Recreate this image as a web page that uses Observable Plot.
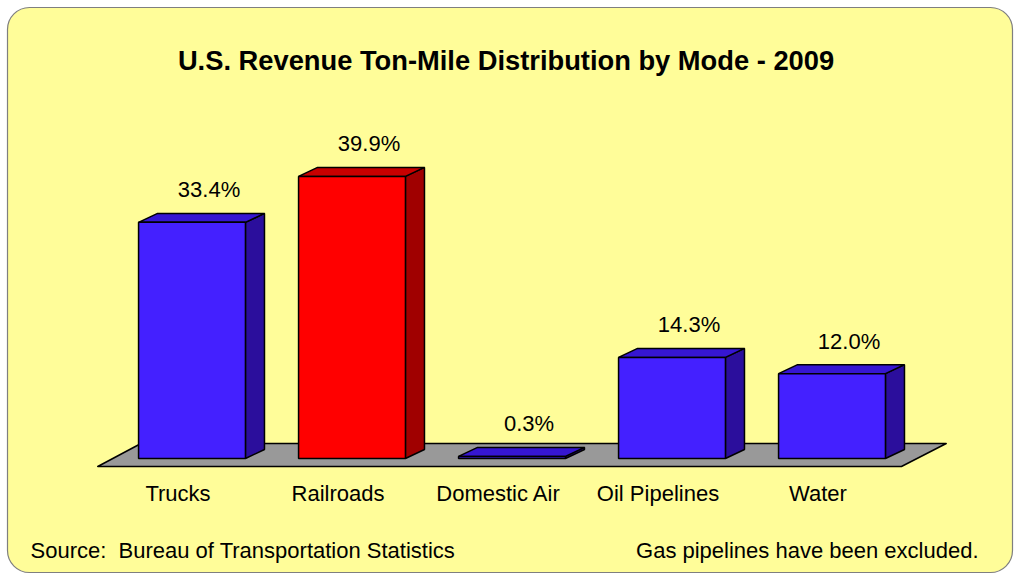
<!DOCTYPE html>
<html>
<head>
<meta charset="utf-8">
<script src="https://cdn.jsdelivr.net/npm/d3@7"></script>
<script src="https://cdn.jsdelivr.net/npm/@observablehq/plot@0.6"></script>
<style>
  html, body { margin: 0; padding: 0; background: #ffffff; }
  svg text { white-space: pre; }
</style>
</head>
<body>
<div id="chart"></div>
<script>
// ---- data ----
const modes = ["Trucks", "Railroads", "Domestic Air", "Oil Pipelines", "Water"];
const shares = [33.4, 39.9, 0.3, 14.3, 12.0];
const shareLabels = ["33.4%", "39.9%", "0.3%", "14.3%", "12.0%"];
const highlighted = ["Railroads"];
const title = "U.S. Revenue Ton-Mile Distribution by Mode - 2009";
const sourceNote = "Source:  Bureau of Transportation Statistics";
const exclusionNote = "Gas pipelines have been excluded.";

// ---- styling / 3D geometry (in scale units) ----
const HALF = 0.334;   // half bar width (x units)
const DX = 0.119;     // depth offset in x units
const DY = 1.27;      // depth offset in y units
const palette = {
  blue: {front: "#4420FF", top: "#3616D2", side: "#2B0E9C"},
  red:  {front: "#FF0000", top: "#C80000", side: "#A00000"}
};

// build polygons from the data
const polys = [];
modes.forEach((m, i) => {
  const v = shares[i];
  const c = highlighted.includes(m) ? palette.red : palette.blue;
  const x0 = i - HALF, x1 = i + HALF;
  const add = (id, pts, fill) => pts.forEach(([x, y]) => polys.push({id, x, y, fill}));
  add(m + "-side", [[x1, 0], [x1 + DX, DY], [x1 + DX, v + DY], [x1, v]], c.side);
  add(m + "-top", [[x0, v], [x1, v], [x1 + DX, v + DY], [x0 + DX, v + DY]], c.top);
  add(m + "-front", [[x0, 0], [x1, 0], [x1, v], [x0, v]], c.front);
});

// floor slab under the bars
const n = modes.length;
const floorFront = -1.13, floorBack = 2.12;
const floor = [
  {x: -HALF - 0.255, y: floorFront},
  {x: n - 1 + HALF + 0.1, y: floorFront},
  {x: n - 1 + HALF + 0.38, y: floorBack},
  {x: -HALF + 0.015, y: floorBack}
];

const idx = modes.map((_, i) => i);
const font = "'Liberation Sans', Arial, sans-serif";

const chart = Plot.plot({
  width: 1019,
  height: 577,
  margin: 0,
  style: {background: "transparent", fontFamily: font, color: "#000"},
  x: {type: "linear", domain: [-1, 5], range: [31.5, 991.5], axis: null},
  y: {type: "linear", domain: [0, 40], range: [458, 175.2], axis: null},
  color: {type: "identity"},
  marks: [
    Plot.frame({fill: "#FFFD99", stroke: "#7f7f7f", strokeWidth: 1.2, rx: 22,
                insetLeft: 7, insetTop: 7, insetRight: 7, insetBottom: 5}),
    Plot.line(floor, {x: "x", y: "y", curve: "linear-closed", fill: "#999999",
                      stroke: "#000", strokeWidth: 1.5}),
    Plot.line(polys, {x: "x", y: "y", z: "id", fill: "fill", stroke: "#000",
                      strokeWidth: 1.5, curve: "linear-closed", strokeLinejoin: "miter"}),
    Plot.text(idx, {x: i => i, y: i => shares[i], text: i => shareLabels[i],
                    dx: 17, dy: -32, fontSize: 22, fill: "#000"}),
    Plot.text(idx, {x: i => i, y: 0, text: i => modes[i],
                    dx: -14, dy: 35, fontSize: 22, fill: "#000"}),
    Plot.text([title], {frameAnchor: "top", text: d => d, dx: -4, dy: 61,
                        lineAnchor: "middle", fontSize: 27.3, fontWeight: "bold", fill: "#000"}),
    Plot.text([sourceNote], {frameAnchor: "bottom-left", text: d => d, dx: 30, dy: -27,
                             lineAnchor: "middle", textAnchor: "start", fontSize: 22, fill: "#000"}),
    Plot.text([exclusionNote], {frameAnchor: "bottom-right", text: d => d, dx: -41, dy: -27,
                                lineAnchor: "middle", textAnchor: "end", fontSize: 22, fill: "#000"})
  ]
});
document.getElementById("chart").appendChild(chart);
</script>
</body>
</html>
